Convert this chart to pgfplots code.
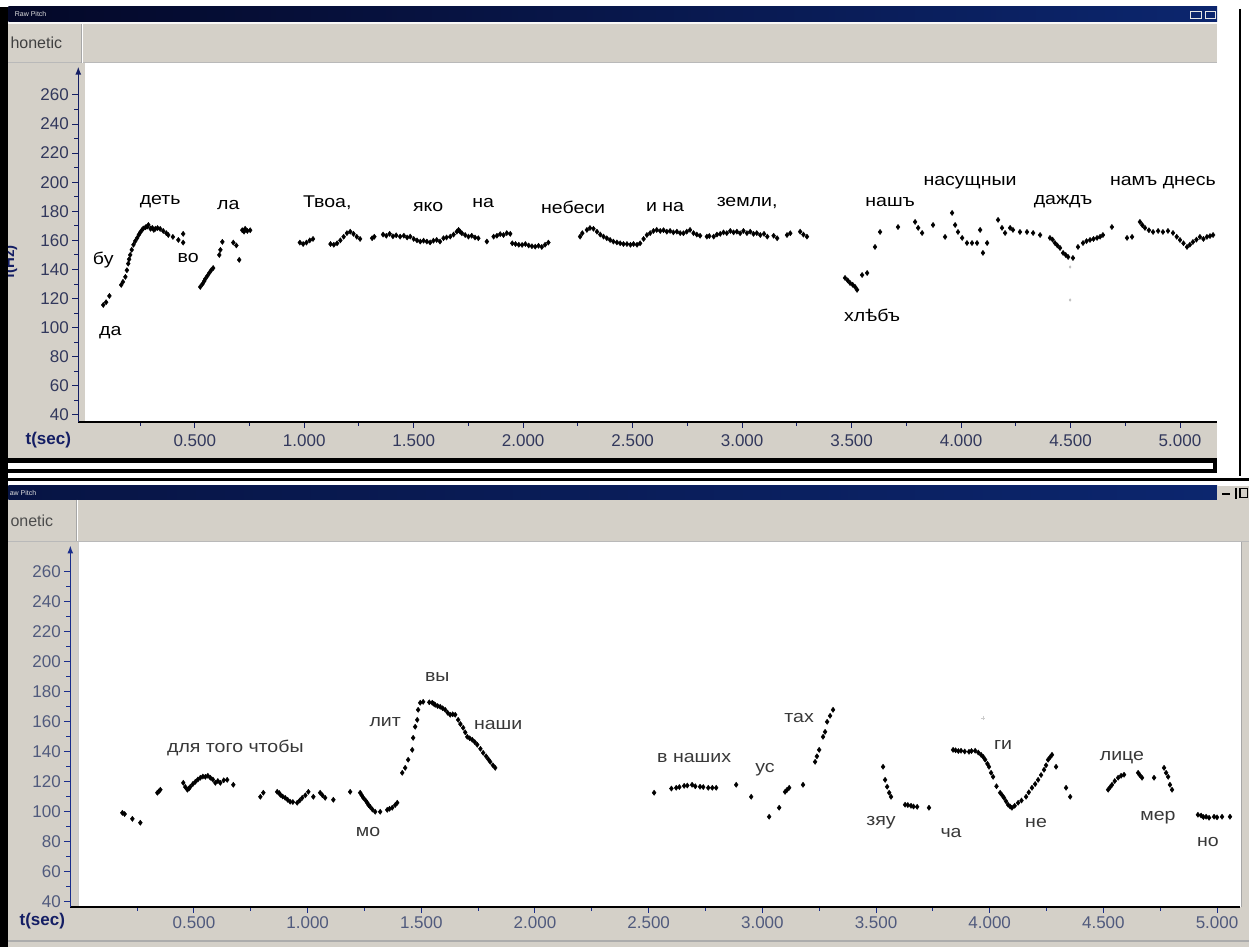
\documentclass[border=0pt]{standalone}
\usepackage{pgfplots}
\pgfplotsset{compat=1.18}
\usetikzlibrary{arrows.meta}
\usepackage{fontspec}
\setmainfont{Liberation Sans}

\definecolor{winbg}{RGB}{212,208,200}
\definecolor{titleA}{RGB}{4,8,40}
\definecolor{titleB}{RGB}{12,38,110}
\definecolor{navyax}{RGB}{20,30,100}
\definecolor{navyax2}{RGB}{25,45,140}
\definecolor{tickcol}{RGB}{50,56,92}
\definecolor{tickcol2}{RGB}{80,90,125}

\newcommand\tickfont{\fontsize{17}{17}\selectfont}
\newcommand\lblfont{\fontsize{17}{17}\selectfont}

\tikzset{
  lbl/.style={font=\lblfont, inner sep=0pt, xscale=1.15},
  lblb/.style={font=\lblfont, inner sep=0pt, xscale=1.15, text=black!78},
}

\pgfplotsset{
  pitch/.style={
    scale only axis, anchor=south west, clip=false,
    axis line style={draw=none},
    xtick pos=left, ytick pos=left,
    xtick={0.5,1,...,5},
    xticklabels={0.500,1.000,1.500,2.000,2.500,3.000,3.500,4.000,4.500,5.000},
    minor xtick={0.25,0.75,...,5},
    ytick={40,60,...,260}, minor ytick={50,70,...,250},
    tick align=outside, major tick length=6pt, minor tick length=4pt,
    /pgf/number format/assume math mode=true,
  },
  pts/.style={only marks, mark=diamond*, mark size=2.6pt, black},
}

\begin{document}
\begin{tikzpicture}[x=1pt,y=1pt]
\fill[white] (0,0) rectangle (1249,947);

% ---------- window frames (drawn top-down in screen pixels) ----------
\begin{scope}[shift={(0,947)},yscale=-1]
  % upper window
  \shade[left color=titleA, right color=titleB] (8,7) rectangle (1217,22);
  \node[anchor=west, font=\fontsize{7}{7}\selectfont, text=white!75!gray] at (11,14.5) {Raw Pitch};
  \draw[white!80!gray, line width=1pt] (1190,12) rectangle (1201,19);
  \draw[white!80!gray, line width=1pt] (1205,12) rectangle (1215,19);
  \fill[white!85!winbg] (8,22) rectangle (1217,24);
  \fill[winbg] (8,24) rectangle (1217,62);
  \fill[gray!55] (8,62) rectangle (1217,63.5);
  \fill[winbg] (8,63.5) rectangle (85,422);
  \fill[winbg] (8,422) rectangle (1217,458);
  \draw[gray!70, line width=1pt] (81,24) -- (81,63);
  \draw[white, line width=1pt] (82.5,24) -- (82.5,63);
  \node[anchor=west, inner sep=0pt, font=\fontsize{16}{16}\selectfont, text=black!75] at (10,43) {honetic};
  \node[rotate=90, font=\bfseries\fontsize{15}{15}\selectfont, text=navyax] at (10,262) {f(Hz)};
  \node[font=\bfseries\fontsize{17}{17}\selectfont, text=navyax] at (48,440) {t(sec)};
  \draw[black, line width=1.5pt] (1240,9) -- (1240,476);
  % scroll bar and divider
  \fill[black] (8,458) rectangle (1217,473);
  \fill[white] (8,463) rectangle (1212.5,469.5);
  \fill[black] (8,478) rectangle (1249,481);
  % lower window
  \shade[left color=titleA!60!titleB, right color=titleB] (8,486) rectangle (1217,500);
  \node[anchor=west, font=\fontsize{7}{7}\selectfont, text=white!75!gray] at (6,493) {aw Pitch};
  \fill[winbg] (1217,486) rectangle (1249,500);
  \draw[black, line width=2pt] (1222,494) -- (1230,494);
  \draw[black, line width=1.4pt] (1236,488) -- (1236,499);
  \draw[black, line width=1.2pt] (1240,489) rectangle (1247.5,498);
  \fill[winbg] (8,500) rectangle (1249,541);
  \fill[gray!55] (8,541) rectangle (1249,542);
  \fill[winbg] (8,542) rectangle (78,907);
  \fill[winbg] (1241,542) rectangle (1249,907);
  \draw[gray!70, line width=1pt] (1241,542) -- (1241,907);
  \draw[gray!70, line width=1pt] (76,500) -- (76,541);
  \draw[white, line width=1pt] (77.5,500) -- (77.5,541);
  \draw[gray!40, line width=1pt] (78.5,542) -- (78.5,907);
  \node[anchor=west, inner sep=0pt, font=\fontsize{16}{16}\selectfont, text=black!70] at (10,521) {onetic};
  \fill[winbg] (8,907) rectangle (1249,947);
  \fill[gray!65] (8,940.5) rectangle (1249,942.5);
  \node[font=\bfseries\fontsize{17}{17}\selectfont, text=navyax] at (42,921) {t(sec)};
  % left border
  \fill[black] (0,7) rectangle (8,947);
\end{scope}

% ---------- upper pitch track ----------
\begin{axis}[pitch,
  at={(78pt,525pt)}, width=1139pt, height=359pt,
  xmin=-0.032, xmax=5.169, ymin=35.2, ymax=282,
  every tick/.style={navyax, line width=1pt},
  ticklabel style={font=\tickfont, text=tickcol},
  xticklabel style={yshift=-3pt},
]
\draw[black, line width=1.8pt] (rel axis cs:0,0) -- (rel axis cs:1,0);
\draw[navyax, line width=1.5pt, -{Latex[length=8pt,width=6pt]}] (rel axis cs:0,0) -- (rel axis cs:0,0.99);
\addplot[pts] coordinates {
(0.082,115.6)(0.095,117.5)(0.11,121.8)(0.164,129.4)(0.172,131.5)(0.183,134.9)
(0.19,139.5)(0.196,144)(0.2,147)(0.205,150)(0.212,153.5)(0.22,157)(0.228,159.5)
(0.237,161.7)(0.245,164)(0.251,165.5)(0.258,167)(0.265,168.2)(0.275,169)
(0.283,169.5)(0.288,170.6)(0.298,168)(0.306,168.6)(0.313,167.2)(0.32,168)
(0.33,168.5)(0.342,167.9)(0.356,166.5)(0.37,165)(0.379,163.7)(0.4,162.4)
(0.425,160.3)(0.447,164.5)(0.447,158.5)
};
\addplot[pts] coordinates {
(0.525,128)(0.535,130)(0.543,132)(0.548,133.5)(0.557,135.5)(0.566,137.6)
(0.575,139.5)(0.584,141)(0.612,150)(0.617,153.5)(0.626,159)(0.676,158.5)
(0.69,156.5)(0.703,146.6)(0.717,167)(0.725,166)(0.73,168)(0.74,166.5)(0.753,167)
};
\addplot[pts] coordinates {
(0.98,158.5)(0.995,157.5)(1.01,158.5)(1.025,160)(1.04,161)
(1.12,157.5)(1.135,157)(1.15,158)(1.165,160)(1.18,162.5)(1.195,165)(1.21,166)
(1.225,164.5)(1.24,162.5)(1.255,161)
(1.31,161.5)(1.32,162.5)
(1.36,164)(1.375,163.2)(1.39,164.5)(1.405,162.8)(1.42,163.5)(1.438,162.6)
(1.455,163.2)(1.47,162)(1.484,162.6)(1.5,161)(1.515,160)(1.53,159.2)(1.545,159.8)
(1.56,159.2)(1.575,158.6)(1.59,159.8)(1.605,160.3)(1.62,159.2)(1.636,161.5)
(1.65,162)(1.667,162.6)(1.682,164)(1.697,166)(1.705,167.2)(1.712,166)(1.72,164.9)
(1.735,163.7)(1.75,162.6)(1.765,163.2)(1.78,162)(1.795,161.5)(1.834,159.2)
(1.865,162.6)(1.88,163.2)(1.895,164.3)(1.91,163.7)(1.925,165)(1.941,164.5)
(1.95,158)(1.965,157.5)(1.98,157)(1.995,156.9)(2.01,157.5)(2.025,156.5)(2.04,156)
(2.055,155.7)(2.07,156.3)(2.085,155.5)(2.1,157)(2.115,158.5)
(2.26,162.6)(2.27,165)(2.291,167.2)(2.305,168.5)(2.321,168)(2.337,166)(2.352,164)
(2.367,162.6)(2.382,161.5)(2.397,160.3)(2.412,159.2)(2.428,158.6)(2.443,158)
(2.458,157.5)(2.474,157.5)(2.49,157)(2.504,157.5)(2.52,157)(2.534,158)(2.55,161)
(2.565,163.7)(2.58,165)(2.595,166.5)(2.61,167.2)(2.626,166.5)(2.641,167)
(2.656,166)(2.671,166.5)(2.686,165.5)(2.702,166)(2.717,165)(2.732,164.9)
(2.747,166)(2.762,167.2)(2.778,165)(2.793,164)(2.808,163.2)(2.839,162.6)
(2.85,163)(2.87,162.6)(2.885,164)(2.9,164.5)(2.915,165.5)(2.93,165)(2.946,166.5)
(2.961,165.5)(2.976,166)(2.991,164.9)(3.006,166.5)(3.022,165)(3.037,166)
(3.052,164.5)(3.067,165)(3.083,163.7)(3.1,164.5)(3.115,162.6)(3.144,163.2)
(3.16,161.5)(3.205,163.7)(3.22,164.9)(3.265,166)(3.28,164)(3.296,162.6)
};
\addplot[pts] coordinates {
(3.47,134.2)(3.482,132.5)(3.493,130.7)(3.505,129.5)(3.516,128)(3.525,126)
(3.548,136.2)(3.571,137.6)
(3.607,155.5)(3.63,165.8)(3.712,169.2)(3.79,172.7)(3.804,168.6)(3.822,165.1)
(3.872,170.6)(3.927,162.4)(3.959,178.9)(3.973,170.6)(3.986,165.8)(4.005,161.7)
(4.027,158.2)(4.05,158.2)(4.073,158.2)(4.087,167.2)(4.1,151.4)(4.119,158.2)
(4.169,174.1)(4.187,168.6)(4.201,165.1)(4.224,168.6)(4.237,167.2)(4.269,165.8)
(4.301,165.8)(4.329,165.1)(4.361,163.7)(4.406,161.7)(4.418,160.5)(4.429,158.2)
(4.44,156.5)(4.452,154.8)(4.466,151.4)(4.478,150)(4.489,148.6)(4.511,147.9)
(4.534,155.5)(4.557,158.2)(4.573,159.5)(4.589,160.3)(4.605,161)(4.621,161.7)
(4.635,162.5)(4.648,163.7)(4.689,169.2)(4.758,161.7)(4.781,162.4)(4.817,172.7)
(4.828,170.5)(4.84,168.6)(4.858,167)(4.877,165.8)(4.9,166.5)(4.922,165.8)
(4.945,166.5)(4.968,165.1)(4.985,162.5)(5.0,160.3)(5.016,158)(5.032,155.5)
(5.045,157)(5.059,158.9)(5.075,160.5)(5.091,162.4)(5.107,161)(5.123,162.4)
(5.137,163)(5.151,163.7)
};
\addplot[only marks, mark=diamond*, mark size=1.3pt, black!25] coordinates {
(4.498,141.7)(4.498,119)
};
\node[lbl] at (axis cs:0.114,96.4) {да};
\node[lbl] at (axis cs:0.082,146.6) {бу};
\node[lbl] at (axis cs:0.342,186.4) {деть};
\node[lbl] at (axis cs:0.47,148) {во};
\node[lbl] at (axis cs:0.653,184.4) {ла};
\node[lbl] at (axis cs:1.105,185.7) {Твоа,};
\node[lbl] at (axis cs:1.566,183) {яко};
\node[lbl] at (axis cs:1.817,185.7) {на};
\node[lbl] at (axis cs:2.228,183) {небеси};
\node[lbl] at (axis cs:2.648,183) {и на};
\node[lbl] at (axis cs:3.023,185.7) {земли,};
\node[lbl] at (axis cs:3.676,186.4) {нашъ};
\node[lbl] at (axis cs:4.041,199.5) {насущныи};
\node[lbl] at (axis cs:4.466,186.4) {даждъ};
\node[lbl] at (axis cs:4.922,199.5) {намъ днесь};
\node[lbl] at (axis cs:3.594,108.7) {хлѣбъ};
\end{axis}

% ---------- lower pitch track ----------
\begin{axis}[pitch,
  at={(70pt,40pt)}, width=1170pt, height=365pt,
  xmin=-0.044, xmax=5.101, ymin=36.67, ymax=280,
  every tick/.style={navyax2, line width=1pt},
  ticklabel style={font=\tickfont, text=tickcol2},
]
\draw[black, line width=1.8pt] (rel axis cs:0,0) -- (rel axis cs:1,0);
\draw[navyax2, line width=1.3pt, -{Latex[length=8pt,width=6pt]}] (rel axis cs:0,0) -- (rel axis cs:0,0.99);
\addplot[pts] coordinates {
(0.185,99.3)(0.195,98.5)(0.229,95.3)(0.264,92.7)(0.339,112.7)(0.345,113.5)
(0.352,114.7)(0.453,119.3)(0.462,116.5)(0.471,114.7)(0.478,115.5)(0.484,116.7)
(0.495,118.5)(0.506,120)(0.517,121.5)(0.528,122.7)(0.539,123.5)(0.55,123.3)
(0.561,124)(0.572,122.7)(0.583,121.5)(0.594,119.3)(0.605,120.5)(0.616,119.3)
(0.631,121)(0.646,121.3)(0.673,118)
};
\addplot[pts] coordinates {
(0.792,110)(0.805,112.7)(0.866,113.3)(0.875,112.5)(0.88,111.3)(0.89,110.2)
(0.901,109.3)(0.912,108)(0.923,106.7)(0.935,106.5)(0.954,106)(0.965,107.5)
(0.976,109.3)(0.99,111)(1.003,113.3)(1.025,110)(1.055,112.7)(1.065,111)
(1.077,109.3)(1.113,108)(1.187,113.3)(1.231,112.7)(1.238,111)(1.245,109.3)
(1.255,107.5)(1.262,106)(1.268,104.5)(1.275,103.3)(1.285,101.5)(1.297,100)
(1.319,100)(1.35,101.3)(1.36,102)(1.372,102.7)(1.385,104.5)(1.394,106)
(1.416,126)(1.429,129.3)(1.442,134.7)(1.46,141.3)(1.464,149.3)(1.473,156.7)
(1.482,161.3)(1.486,168)(1.495,172.7)(1.508,173.3)(1.535,173)(1.548,172.7)
(1.555,172)(1.561,171.3)(1.572,170.5)(1.583,170)(1.594,169)(1.605,168)
(1.616,166)(1.627,164.7)(1.638,165)(1.649,164.7)(1.662,161.3)(1.672,158.5)
(1.684,156)(1.693,153)(1.702,150)(1.713,149)(1.724,148)(1.735,146.5)
(1.746,144.7)(1.76,142)(1.772,139.3)(1.785,137)(1.795,135)(1.803,133.3)
(1.815,131)(1.825,129.3)
};
\addplot[pts] coordinates {
(2.524,112.7)(2.6,115.5)(2.621,116)(2.635,116.5)(2.656,117.3)(2.67,117.5)
(2.691,118)(2.705,117)(2.726,116.7)(2.74,116.5)(2.762,116)(2.78,116)(2.797,116)
(2.885,118)(2.951,110)(3.03,96.7)(3.074,102.7)(3.1,113.3)(3.108,114.5)
(3.118,116)(3.179,118)(3.232,133.3)(3.24,137)(3.25,141.3)(3.267,150)
(3.276,153.3)(3.285,160)(3.298,164)(3.311,168)
};
\addplot[pts] coordinates {
(3.531,130)(3.54,121.3)(3.549,116.7)(3.558,112.7)(3.566,110)(3.628,104.7)
(3.64,104.5)(3.654,104)(3.665,103.5)(3.681,103.3)(3.733,102.7)
};
\addplot[pts] coordinates {
(3.839,141.3)(3.85,141)(3.862,140.5)(3.874,140.7)(3.89,140.2)(3.909,140)
(3.92,140.5)(3.936,140.7)(3.95,139.5)(3.962,138)(3.972,136.5)(3.98,134.7)
(3.99,132)(3.997,130)(4.006,126)(4.015,123.3)(4.03,117)(4.046,112.7)
(4.055,111)(4.063,109.3)(4.072,107)(4.081,104.7)(4.09,103.5)(4.098,102.7)
(4.11,104)(4.125,106)(4.14,107.5)(4.16,110)(4.172,113)(4.186,116)(4.2,118.5)
(4.213,121.3)(4.226,124.5)(4.239,128)(4.248,131)(4.257,134.7)(4.266,136.5)
(4.274,138)(4.292,130)(4.336,116)(4.354,110)
};
\addplot[pts] coordinates {
(4.521,114.7)(4.53,116.5)(4.538,118)(4.55,120.5)(4.565,122.7)(4.578,124)
(4.591,124.7)(4.653,126)(4.66,124.5)(4.67,122.7)(4.723,122.7)(4.767,129.3)
(4.776,126)(4.785,123.3)(4.793,118)(4.802,114.7)
};
\addplot[pts] coordinates {
(4.916,98)(4.93,97.5)(4.94,96.5)(4.952,96.7)(4.965,96)(4.987,96.7)(5.0,96.3)
(5.022,96.7)(5.057,96.7)
};
\addplot[only marks, mark=+, mark size=2pt, black!20] coordinates {
(3.971,162.7)
};
\node[lblb] at (axis cs:0.682,142.7) {для того чтобы};
\node[lblb] at (axis cs:1.341,160) {лит};
\node[lblb] at (axis cs:1.57,190) {вы};
\node[lblb] at (axis cs:1.838,158) {наши};
\node[lblb] at (axis cs:1.266,86.7) {мо};
\node[lblb] at (axis cs:2.7,136) {в наших};
\node[lblb] at (axis cs:3.012,128) {ус};
\node[lblb] at (axis cs:3.162,162.7) {тах};
\node[lblb] at (axis cs:3.522,92.7) {зяу};
\node[lblb] at (axis cs:3.83,86) {ча};
\node[lblb] at (axis cs:4.059,144.7) {ги};
\node[lblb] at (axis cs:4.204,92.7) {не};
\node[lblb] at (axis cs:4.582,136) {лице};
\node[lblb] at (axis cs:4.74,96) {мер};
\node[lblb] at (axis cs:4.96,80) {но};
\end{axis}
\end{tikzpicture}
\end{document}
